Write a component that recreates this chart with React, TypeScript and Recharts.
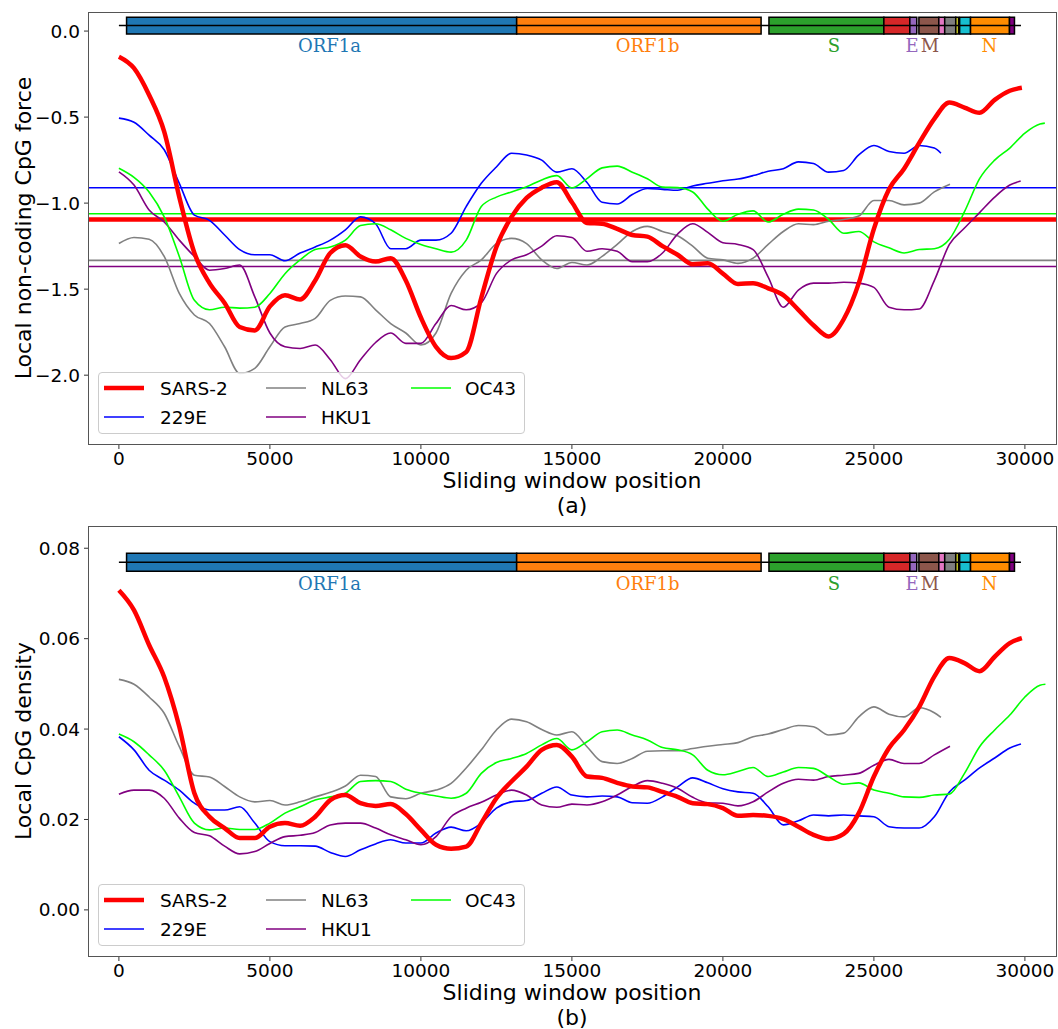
import React from 'react'
import {
  ComposedChart,
  Line,
  XAxis,
  YAxis,
  ReferenceLine,
  ReferenceArea,
  Scatter,
} from 'recharts'

// sliding window positions (nt)
const positions = [
  0, 500, 1000, 1500, 2000, 2500, 3000, 3500, 4000, 4500, 5000, 5500, 6000, 6500, 7000, 7500,
  8000, 8500, 9000, 9500, 10000, 10500, 11000, 11500, 12000, 12500, 13000, 13500, 14000, 14500,
  15000, 15500, 16000, 16500, 17000, 17500, 18000, 18500, 19000, 19500, 20000, 20500, 21000,
  21500, 22000, 22500, 23000, 23500, 24000, 24500, 25000, 25500, 26000, 26500, 27000, 27500,
  28000, 28500, 29000, 29500, 30000, 30500,
]

// last window of each series (the final value of each series sits here)
const forceEnds = [29900, 27220, 27520, 29860, 30660]
const densEnds = [29900, 29870, 27220, 27520, 30680]

// (a) local non-coding CpG force
const forceSars2 = [
  -0.149, -0.216, -0.372, -0.585, -0.965, -1.29, -1.465, -1.58, -1.72, -1.74, -1.6, -1.535, -1.56,
  -1.45, -1.29, -1.245, -1.31, -1.34, -1.32, -1.45, -1.665, -1.835, -1.9, -1.865, -1.55, -1.255,
  -1.08, -0.97, -0.91, -0.878, -0.995, -1.115, -1.12, -1.15, -1.185, -1.195, -1.25, -1.3, -1.355,
  -1.35, -1.41, -1.47, -1.465, -1.495, -1.535, -1.62, -1.71, -1.775, -1.675, -1.465, -1.15, -0.92,
  -0.8, -0.65, -0.51, -0.415, -0.445, -0.475, -0.4, -0.347, -0.33,
]
const force229E = [
  -0.506, -0.53, -0.605, -0.69, -0.885, -1.07, -1.1, -1.185, -1.27, -1.3, -1.3, -1.335, -1.29,
  -1.255, -1.215, -1.155, -1.08, -1.12, -1.265, -1.265, -1.215, -1.215, -1.175, -1.02, -0.885,
  -0.79, -0.71, -0.72, -0.75, -0.82, -0.8, -0.88, -0.995, -1.005, -0.95, -0.915, -0.92, -0.925,
  -0.9, -0.885, -0.87, -0.86, -0.84, -0.815, -0.8, -0.76, -0.77, -0.82, -0.81, -0.72, -0.665, -0.7,
  -0.71, -0.665, -0.68, -0.71,
]
const forceNL63 = [
  -1.235, -1.2, -1.21, -1.31, -1.525, -1.65, -1.7, -1.835, -1.99, -1.96, -1.835, -1.72, -1.7,
  -1.67, -1.565, -1.54, -1.545, -1.62, -1.7, -1.755, -1.825, -1.755, -1.525, -1.39, -1.33, -1.235,
  -1.205, -1.235, -1.33, -1.38, -1.345, -1.36, -1.31, -1.24, -1.165, -1.135, -1.165, -1.19, -1.25,
  -1.32, -1.33, -1.35, -1.32, -1.24, -1.165, -1.12, -1.125, -1.105, -1.095, -1.075, -0.985, -0.985,
  -1.01, -1.0, -0.935, -0.89,
]
const forceHKU1 = [
  -0.818, -0.895, -1.04, -1.11, -1.215, -1.31, -1.39, -1.38, -1.36, -1.545, -1.755, -1.835, -1.845,
  -1.825, -1.91, -2.02, -1.91, -1.81, -1.755, -1.815, -1.815, -1.7, -1.595, -1.62, -1.58, -1.41,
  -1.33, -1.3, -1.25, -1.19, -1.2, -1.28, -1.265, -1.28, -1.34, -1.34, -1.29, -1.18, -1.12, -1.17,
  -1.23, -1.24, -1.27, -1.43, -1.605, -1.505, -1.465, -1.465, -1.46, -1.465, -1.49, -1.605, -1.62,
  -1.615, -1.45, -1.24, -1.145, -1.055, -0.965, -0.895, -0.872,
]
const forceOC43 = [
  -0.797, -0.85, -0.935, -1.08, -1.31, -1.565, -1.62, -1.605, -1.61, -1.605, -1.525, -1.41, -1.33,
  -1.27, -1.255, -1.215, -1.13, -1.12, -1.155, -1.205, -1.24, -1.265, -1.285, -1.215, -1.02,
  -0.965, -0.935, -0.905, -0.865, -0.84, -0.912, -0.858, -0.795, -0.785, -0.82, -0.858, -0.907,
  -0.91, -0.935, -1.035, -1.105, -1.065, -1.045, -1.11, -1.065, -1.035, -1.04, -1.095, -1.175,
  -1.165, -1.225, -1.26, -1.29, -1.27, -1.265, -1.21, -1.05, -0.858, -0.75, -0.68, -0.593, -0.54,
  -0.535,
]
// genome-wide averages drawn as horizontal lines
const forceMeans = [-1.095, -0.911, -1.333, -1.368, -1.062]

// (b) local CpG density
const densSars2 = [
  0.0707, 0.0663, 0.0586, 0.0515, 0.0405, 0.0258, 0.0206, 0.0181, 0.0159, 0.0159, 0.0184, 0.0192,
  0.0186, 0.0206, 0.0243, 0.0254, 0.0236, 0.023, 0.0234, 0.0212, 0.0177, 0.0144, 0.0135, 0.014,
  0.0192, 0.0247, 0.0284, 0.0317, 0.0354, 0.0365, 0.0339, 0.0295, 0.0292, 0.0281, 0.0273, 0.0271,
  0.0261, 0.025, 0.0236, 0.0234, 0.0225, 0.0208, 0.021, 0.0208, 0.0201, 0.0184, 0.0166, 0.0157,
  0.0168, 0.0214, 0.0295, 0.0358, 0.0398, 0.0449, 0.0516, 0.0557, 0.0546, 0.0528, 0.056, 0.059,
  0.0601,
]
const dens229E = [
  0.0383, 0.0354, 0.0309, 0.0287, 0.0265, 0.0236, 0.0221, 0.0221, 0.0228, 0.0192, 0.0151, 0.0142,
  0.0142, 0.0141, 0.0127, 0.0118, 0.0133, 0.0146, 0.0155, 0.0148, 0.0148, 0.017, 0.0183, 0.0175,
  0.0192, 0.0225, 0.0239, 0.0242, 0.0258, 0.0272, 0.0254, 0.025, 0.0252, 0.025, 0.0237, 0.0236,
  0.025, 0.0272, 0.0292, 0.0281, 0.0268, 0.0261, 0.0258, 0.0228, 0.0188, 0.0197, 0.021, 0.0208,
  0.021, 0.0208, 0.0206, 0.0184, 0.0181, 0.0181, 0.0206, 0.0261, 0.0287, 0.0314, 0.0336, 0.0358,
  0.0367,
]
const densNL63 = [
  0.051, 0.0499, 0.0471, 0.0435, 0.0361, 0.0298, 0.0294, 0.0273, 0.025, 0.0239, 0.0242, 0.0232,
  0.0239, 0.025, 0.026, 0.0274, 0.0298, 0.0295, 0.025, 0.0246, 0.0258, 0.0265, 0.028, 0.0314,
  0.0354, 0.0398, 0.0422, 0.0416, 0.0399, 0.0387, 0.0394, 0.0361, 0.0328, 0.0324, 0.0335, 0.0351,
  0.0352, 0.0352, 0.0357, 0.0362, 0.0366, 0.037, 0.0383, 0.0389, 0.0399, 0.0408, 0.0405, 0.0387,
  0.0391, 0.0427, 0.0449, 0.0433, 0.0427, 0.0447, 0.0436, 0.0426,
]
const densHKU1 = [
  0.0256, 0.0265, 0.0265, 0.0247, 0.0203, 0.0171, 0.0164, 0.0141, 0.0124, 0.0129, 0.0147, 0.0162,
  0.0165, 0.0171, 0.0188, 0.0192, 0.0192, 0.0181, 0.0166, 0.0155, 0.0144, 0.0162, 0.0206, 0.0225,
  0.0238, 0.0254, 0.0265, 0.0254, 0.0232, 0.0227, 0.0234, 0.0232, 0.0239, 0.0254, 0.0273, 0.0286,
  0.028, 0.0269, 0.0249, 0.0237, 0.0236, 0.023, 0.0239, 0.0261, 0.028, 0.0289, 0.0287, 0.0295,
  0.0298, 0.0302, 0.032, 0.0333, 0.0324, 0.0324, 0.0343, 0.0362,
]
const densOC43 = [
  0.0389, 0.0372, 0.0343, 0.0309, 0.025, 0.0192, 0.0177, 0.0181, 0.0178, 0.0178, 0.0192, 0.0214,
  0.0228, 0.0243, 0.025, 0.0258, 0.0284, 0.0286, 0.0284, 0.0267, 0.0258, 0.0252, 0.0247, 0.0258,
  0.0302, 0.0326, 0.0335, 0.0346, 0.0365, 0.0379, 0.0354, 0.0372, 0.0394, 0.0398, 0.0387, 0.0376,
  0.0359, 0.0354, 0.0343, 0.0309, 0.0299, 0.0306, 0.0315, 0.0295, 0.0305, 0.0315, 0.0313, 0.0295,
  0.0278, 0.0281, 0.0265, 0.0258, 0.025, 0.0249, 0.0254, 0.0256, 0.0302, 0.0361, 0.0398, 0.0431,
  0.0471, 0.0497, 0.0499,
]

const seriesNames = ['SARS-2', '229E', 'NL63', 'HKU1', 'OC43']
const seriesColors = ['#ff0000', '#0000ff', '#808080', '#800080', '#00ff00']
const seriesWidths = [4.5, 1.6, 1.6, 1.6, 1.6]

// SARS-CoV-2 genome map drawn across the top of each panel
const geneStart = [254, 13171, 21525, 25330, 26190, 26490, 27150, 27345, 27710, 27840, 28200, 29490]
const geneEnd = [13171, 21265, 25330, 26190, 26420, 27150, 27345, 27710, 27810, 28200, 29490, 29655]
const geneColors = [
  '#1f77b4', '#ff7f0e', '#2ca02c', '#d62728', '#9467bd', '#8c564b',
  '#e377c2', '#7f7f7f', '#bcbd22', '#17becf', '#ff8c00', '#800080',
]
const genomeLength = 29870
const labelNames = ['ORF1a', 'ORF1b', 'S', 'E', 'M', 'N']
const labelPos = [6970, 17505, 23680, 26260, 26860, 28820]
const labelColors = ['#1f77b4', '#ff7f0e', '#2ca02c', '#9467bd', '#8c564b', '#ff8c00']

const xTicks = [0, 5000, 10000, 15000, 20000, 25000, 30000]

const SANS = '"DejaVu Sans", sans-serif'
const SERIF = '"DejaVu Serif", serif'

function toPoints(values: number[], endX: number) {
  return values.map((y, i) => ({ x: i === values.length - 1 ? endX : positions[i], y }))
}

function GeneLabel(props: any) {
  const { cx, cy, payload } = props
  return (
    <text
      x={cx}
      y={cy}
      textAnchor="middle"
      dominantBaseline="central"
      fill={payload.color}
      style={{ fontFamily: SERIF, fontSize: 18 }}
    >
      {payload.name}
    </text>
  )
}

function LegendBox({ top }: { top: number }) {
  const cols = [
    { lx: 6, tx: 62 },
    { lx: 168, tx: 223 },
    { lx: 313, tx: 367 },
  ]
  const rows = [16, 45]
  return (
    <div
      style={{
        position: 'absolute',
        left: 98,
        top,
        width: 427,
        height: 62,
        boxSizing: 'border-box',
        border: '1px solid #cccccc',
        borderRadius: 4,
        background: 'rgba(255,255,255,0.8)',
      }}
    >
      <svg width={427} height={62} style={{ position: 'absolute', left: -1, top: -1 }}>
        {seriesNames.map((name, i) => {
          const c = cols[Math.floor(i / 2)]
          const y = rows[i % 2]
          return (
            <g key={name}>
              <line x1={c.lx} x2={c.lx + 40} y1={y} y2={y} stroke={seriesColors[i]} strokeWidth={seriesWidths[i]} />
              <text x={c.tx} y={y} dominantBaseline="central" style={{ fontFamily: SANS, fontSize: 18.5 }}>
                {name}
              </text>
            </g>
          )
        })}
      </svg>
    </div>
  )
}

type PanelProps = {
  top: number
  bottomSpace: number
  data: number[][]
  ends: number[]
  means?: number[]
  yDomain: [number, number]
  yTicks: number[]
  fmt: (v: number) => string
  barLow: number
  barHigh: number
  labelY: number
}

function Panel(p: PanelProps) {
  const barMid = (p.barLow + p.barHigh) / 2
  const labels = labelNames.map((name, i) => ({ x: labelPos[i], y: p.labelY, name, color: labelColors[i] }))
  // SARS-2 goes on top of the other genomes
  const order = [1, 2, 3, 4, 0]
  return (
    <div style={{ position: 'absolute', left: 0, top: p.top }}>
      <ComposedChart
        width={1058}
        height={515}
        margin={{ top: 13, right: 2, bottom: p.bottomSpace - 30, left: 0 }}
      >
        <XAxis
          type="number"
          dataKey="x"
          domain={[-990, 31030]}
          allowDataOverflow
          ticks={xTicks}
          height={30}
          axisLine={false}
          tickSize={5}
          tickMargin={3}
          tickLine={{ stroke: '#333' }}
          tick={{ fill: '#000', fontSize: 18.5, fontFamily: SANS }}
        />
        <YAxis
          type="number"
          dataKey="y"
          domain={p.yDomain}
          allowDataOverflow
          ticks={p.yTicks}
          tickFormatter={p.fmt}
          width={89}
          axisLine={false}
          tickSize={5}
          tickMargin={4}
          tickLine={{ stroke: '#333' }}
          tick={{ fill: '#000', fontSize: 18.5, fontFamily: SANS }}
        />
        {p.means &&
          order.map((i) => (
            <ReferenceLine
              key={'m' + i}
              y={p.means![i]}
              stroke={seriesColors[i]}
              strokeWidth={seriesWidths[i]}
            />
          ))}
        {order.map((i) => (
          <Line
            key={seriesNames[i]}
            data={toPoints(p.data[i], p.ends[i])}
            dataKey="y"
            type="monotone"
            stroke={seriesColors[i]}
            strokeWidth={seriesWidths[i]}
            dot={false}
            activeDot={false}
            isAnimationActive={false}
          />
        ))}
        <ReferenceLine
          segment={[
            { x: 0, y: barMid },
            { x: genomeLength, y: barMid },
          ]}
          stroke="#000"
          strokeWidth={1.5}
        />
        {geneStart.map((s, i) => (
          <ReferenceArea
            key={'g' + i}
            x1={s}
            x2={geneEnd[i]}
            y1={p.barLow}
            y2={p.barHigh}
            fill={geneColors[i]}
            fillOpacity={1}
            stroke="#000"
            strokeWidth={1.5}
          />
        ))}
        <Scatter data={labels} dataKey="y" shape={GeneLabel} isAnimationActive={false} />
      </ComposedChart>
    </div>
  )
}

function AxisText({ x, y, text, rotate }: { x: number; y: number; text: string; rotate?: boolean }) {
  return (
    <div
      style={{
        position: 'absolute',
        left: x,
        top: y,
        transform: `translate(-50%, -50%)${rotate ? ' rotate(-90deg)' : ''}`,
        fontFamily: SANS,
        fontSize: 22,
        whiteSpace: 'nowrap',
        lineHeight: 1,
      }}
    >
      {text}
    </div>
  )
}

function Frame({ top, height }: { top: number; height: number }) {
  return (
    <div
      style={{
        position: 'absolute',
        left: 88,
        top: top - 1,
        width: 969,
        height: height + 2,
        boxSizing: 'border-box',
        border: '1.5px solid #555',
        pointerEvents: 'none',
      }}
    />
  )
}

const fmtForce = (v: number) => (v === 0 ? '0.0' : (v < 0 ? '\u2212' : '') + Math.abs(v).toFixed(1))
const fmtDens = (v: number) => v.toFixed(2)

export default function App() {
  return (
    <div style={{ position: 'absolute', left: 0, top: 0, width: 1058, height: 1029, background: '#fff' }}>
      <Panel
        top={0}
        bottomSpace={71}
        data={[forceSars2, force229E, forceNL63, forceHKU1, forceOC43]}
        ends={forceEnds}
        means={forceMeans}
        yDomain={[-2.4, 0.105]}
        yTicks={[-2, -1.5, -1, -0.5, 0]}
        fmt={fmtForce}
        barLow={-0.017}
        barHigh={0.081}
        labelY={-0.081}
      />
      <Frame top={13} height={431} />
      <LegendBox top={372} />
      <AxisText x={24} y={228} text="Local non-coding CpG force" rotate />
      <AxisText x={572} y={481} text="Sliding window position" />
      <AxisText x={572} y={506} text="(a)" />

      <Panel
        top={514}
        bottomSpace={73}
        data={[densSars2, dens229E, densNL63, densHKU1, densOC43]}
        ends={densEnds}
        yDomain={[-0.0102, 0.0847]}
        yTicks={[0, 0.02, 0.04, 0.06, 0.08]}
        fmt={fmtDens}
        barLow={0.0749}
        barHigh={0.0789}
        labelY={0.0723}
      />
      <Frame top={527} height={429} />
      <LegendBox top={884} />
      <AxisText x={24} y={741} text="Local CpG density" rotate />
      <AxisText x={572} y={993} text="Sliding window position" />
      <AxisText x={572} y={1018} text="(b)" />
    </div>
  )
}
